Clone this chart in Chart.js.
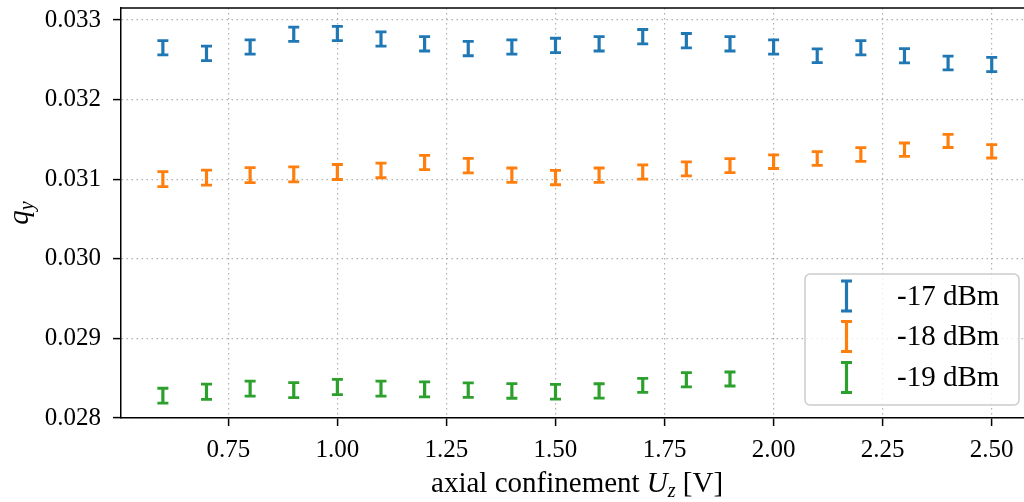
<!DOCTYPE html>
<html>
<head>
<meta charset="utf-8">
<script src="https://cdn.jsdelivr.net/npm/chart.js@4.4.1/dist/chart.umd.min.js"></script>
<style>
  html, body { margin: 0; padding: 0; background: #fff; overflow: hidden; }
  #wrap { width: 1024px; height: 502px; }
</style>
</head>
<body>
<div id="wrap"><canvas id="chart" width="1024" height="502"></canvas></div>
<script>
// axial confinement U_z [V]
const uz = [0.6, 0.7, 0.8, 0.9, 1.0, 1.1, 1.2, 1.3, 1.4, 1.5, 1.6, 1.7, 1.8, 1.9, 2.0, 2.1, 2.2, 2.3, 2.4, 2.5];

// q_y for each drive power
const qy17 = [0.03265, 0.03258, 0.03266, 0.03282, 0.03283, 0.03276, 0.03270, 0.03264, 0.03266, 0.03268,
              0.03270, 0.03279, 0.03274, 0.03270, 0.03266, 0.03255, 0.03265, 0.03255, 0.03246, 0.03244];
const qy18 = [0.03100, 0.03102, 0.03105, 0.03106, 0.03109, 0.03111, 0.03121, 0.03117, 0.03105, 0.03102,
              0.03105, 0.03109, 0.03113, 0.03117, 0.03122, 0.03126, 0.03131, 0.03137, 0.03148, 0.03135];
const qy19 = [0.02828, 0.02833, 0.02837, 0.02835, 0.02839, 0.02837, 0.02836, 0.02835, 0.02834, 0.02833,
              0.02834, 0.02841, 0.02848, 0.02849];

// Fehlerbalken (±)
const err17 = [0.00009, 0.00009, 0.00009, 0.00009, 0.00009, 0.00009, 0.00009, 0.00009, 0.00009, 0.00009,
               0.00009, 0.00009, 0.00009, 0.00009, 0.00009, 0.000087, 0.00009, 0.00009, 0.000086, 0.00009];
const err18 = [0.000094, 0.000094, 0.000094, 0.000094, 0.000094, 0.000092, 0.00009, 0.00009, 0.00009, 0.00009,
               0.00009, 0.00009, 0.000088, 0.000088, 0.000086, 0.000086, 0.000086, 0.000084, 0.000082, 0.000084];
const err19 = [0.000094, 0.000096, 0.000094, 0.000094, 0.000096, 0.000094, 0.000094, 0.000092, 0.000092, 0.000092,
               0.00009, 0.000088, 0.00009, 0.000088];

const seriesLabels = ['-17 dBm', '-18 dBm', '-19 dBm'];
const seriesColors = ['#1f77b4', '#ff7f0e', '#2ca02c'];

const xTicks = [0.75, 1.00, 1.25, 1.50, 1.75, 2.00, 2.25, 2.50];
const yTicks = [0.028, 0.029, 0.030, 0.031, 0.032, 0.033];

const FONT = "'Liberation Serif', 'DejaVu Serif', serif";
const LABEL_SIZE = 29;
const TICK_SIZE = 25;

const series = [qy17, qy18, qy19];
const errors = [err17, err18, err19];

function drawErrorBar(ctx, x, yTop, yBot) {
    ctx.lineWidth = 3.2;
    ctx.beginPath();
    ctx.moveTo(x, yTop);
    ctx.lineTo(x, yBot);
    ctx.stroke();
    ctx.lineWidth = 2.8;
    ctx.beginPath();
    ctx.moveTo(x - 5.5, yTop);
    ctx.lineTo(x + 5.5, yTop);
    ctx.moveTo(x - 5.5, yBot);
    ctx.lineTo(x + 5.5, yBot);
    ctx.stroke();
}

// Fehlerbalken zeichnen (ohne Marker)
const errorBarPlugin = {
    id: 'errorBars',
    afterDatasetsDraw(chart) {
        const ctx = chart.ctx;
        const yScale = chart.scales.y;
        chart.data.datasets.forEach((ds, d) => {
            const meta = chart.getDatasetMeta(d);
            ctx.save();
            ctx.strokeStyle = ds.borderColor;
            meta.data.forEach((pt, i) => {
                const v = ds.data[i].y;
                const e = ds.err[i];
                drawErrorBar(ctx, pt.x, yScale.getPixelForValue(v + e), yScale.getPixelForValue(v - e));
            });
            ctx.restore();
        });
    }
};

// obere Achsenlinie, Achsentitel und Legende
const decorPlugin = {
    id: 'decor',
    afterDraw(chart) {
        const ctx = chart.ctx;
        const area = chart.chartArea;

        ctx.save();
        ctx.strokeStyle = '#000';
        ctx.lineWidth = 1.5;
        ctx.beginPath();
        ctx.moveTo(area.left - 0.75, area.top);
        ctx.lineTo(area.right, area.top);
        ctx.stroke();

        // x-Achsentitel (Achse reicht rechts über das Bild hinaus)
        const axisMid = (area.left + chart.scales.x.getPixelForValue(2.595)) / 2;
        const sub = Math.round(LABEL_SIZE * 0.7);
        const parts = [
            { t: 'axial confinement ', f: `${LABEL_SIZE}px ${FONT}`, dy: 0 },
            { t: 'U', f: `italic ${LABEL_SIZE}px ${FONT}`, dy: 0 },
            { t: 'z', f: `italic ${sub}px ${FONT}`, dy: 5 },
            { t: ' [V]', f: `${LABEL_SIZE}px ${FONT}`, dy: 0 }
        ];
        let total = 0;
        parts.forEach(p => { ctx.font = p.f; p.w = ctx.measureText(p.t).width; total += p.w; });
        let x = axisMid - total / 2;
        const base = 492;
        ctx.fillStyle = '#000';
        ctx.textBaseline = 'alphabetic';
        ctx.textAlign = 'left';
        parts.forEach(p => {
            ctx.font = p.f;
            ctx.fillText(p.t, x, base + p.dy);
            x += p.w;
        });

        // y-Achsentitel
        ctx.translate(28, (area.top + area.bottom) / 2);
        ctx.rotate(-Math.PI / 2);
        ctx.font = `italic ${LABEL_SIZE}px ${FONT}`;
        const wq = ctx.measureText('q').width;
        ctx.font = `italic ${sub}px ${FONT}`;
        const wy = ctx.measureText('y').width;
        const yx = -(wq + wy) / 2;
        ctx.font = `italic ${LABEL_SIZE}px ${FONT}`;
        ctx.fillText('q', yx, 0);
        ctx.font = `italic ${sub}px ${FONT}`;
        ctx.fillText('y', yx + wq, 5);
        ctx.restore();

        // Legende
        ctx.save();
        ctx.beginPath();
        ctx.roundRect(805, 274, 214, 131, 5);
        ctx.fillStyle = 'rgba(255,255,255,0.8)';
        ctx.fill();
        ctx.strokeStyle = '#cccccc';
        ctx.lineWidth = 1.5;
        ctx.stroke();
        const rows = [296, 336.5, 377.5];
        chart.data.datasets.forEach((ds, d) => {
            const cy = rows[d];
            ctx.strokeStyle = ds.borderColor;
            drawErrorBar(ctx, 846.5, cy - 15, cy + 15);
            ctx.fillStyle = '#000';
            ctx.font = `${LABEL_SIZE}px ${FONT}`;
            ctx.textBaseline = 'middle';
            ctx.textAlign = 'left';
            ctx.fillText(ds.label, 897, cy + 1);
        });
        ctx.restore();
    }
};

const datasets = series.map((vals, d) => ({
    label: seriesLabels[d],
    data: vals.map((v, i) => ({ x: uz[i], y: v })),
    err: errors[d],
    borderColor: seriesColors[d],
    backgroundColor: seriesColors[d],
    pointRadius: 0,
    pointHoverRadius: 0,
    showLine: false
}));

const gridStyle = {
    color: '#b0b0b0',
    lineWidth: 1.2,
    tickLength: 8,
    tickColor: '#000',
    tickWidth: 1.5
};

new Chart(document.getElementById('chart'), {
    type: 'scatter',
    data: { datasets: datasets },
    options: {
        responsive: false,
        animation: false,
        events: [],
        layout: { padding: { top: 8, right: 0, left: 0, bottom: 0 } },
        plugins: {
            legend: { display: false },
            tooltip: { enabled: false }
        },
        scales: {
            x: {
                type: 'linear',
                min: 0.504,
                max: 2.574,
                afterBuildTicks: scale => { scale.ticks = xTicks.map(v => ({ value: v })); },
                afterFit: scale => {
                    scale.height = 84;
                    scale.paddingLeft = 0;
                    scale.paddingRight = 0;
                },
                ticks: {
                    color: '#000',
                    font: { family: FONT, size: TICK_SIZE },
                    padding: 9,
                    maxRotation: 0,
                    callback: v => Number(v).toFixed(2)
                },
                grid: gridStyle,
                border: { display: true, color: '#000', width: 1.5, dash: [1.5, 3.5] }
            },
            y: {
                type: 'linear',
                min: 0.028,
                max: 0.03315,
                afterBuildTicks: scale => { scale.ticks = yTicks.map(v => ({ value: v })); },
                afterFit: scale => {
                    scale.width = 121;
                    scale.paddingTop = 0;
                    scale.paddingBottom = 0;
                },
                ticks: {
                    color: '#000',
                    font: { family: FONT, size: TICK_SIZE },
                    padding: 12,
                    callback: v => Number(v).toFixed(3)
                },
                grid: gridStyle,
                border: { display: true, color: '#000', width: 1.5, dash: [1.5, 3.5] }
            }
        }
    },
    plugins: [errorBarPlugin, decorPlugin]
});
</script>
</body>
</html>
